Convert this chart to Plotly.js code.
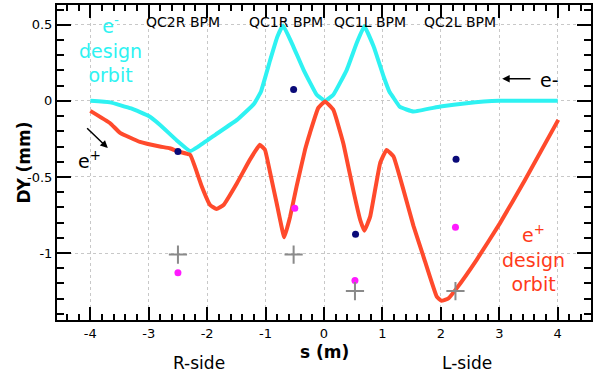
<!DOCTYPE html>
<html>
<head>
<meta charset="utf-8">
<script src="https://cdn.plot.ly/plotly-3.0.1.min.js"></script>
<style>
  html, body { margin: 0; padding: 0; background: #fff; }
  #myChart { width: 602px; height: 379px; }
</style>
</head>
<body>
<div id="myChart"></div>
<script>
// e- design orbit (cyan)
const sElec = [-4.0, -3.66, -3.3, -3.0, -2.8, -2.52, -2.29, -2.15, -1.85, -1.49, -1.2, -1.08,
	-0.92, -0.8, -0.7, -0.525, -0.35, -0.125, 0.017, 0.16, 0.39, 0.56, 0.69,
	0.85, 1.02, 1.12, 1.19, 1.3, 1.53, 1.99, 2.44, 3.0, 4.0];
const dyElec = [0.0, -0.01, -0.05, -0.1, -0.16, -0.26, -0.33, -0.3, -0.22, -0.125, -0.02, 0.06,
	0.27, 0.42, 0.495, 0.357, 0.204, 0.04, 0.0, 0.04, 0.204, 0.38, 0.49,
	0.357, 0.16, 0.06, 0.02, -0.04, -0.07, -0.037, -0.015, 0.0, 0.0];

// e+ design orbit (red)
const sPos = [-4.0, -3.66, -3.49, -3.15, -2.81, -2.64, -2.49, -2.29, -2.21, -2.09, -1.95, -1.84,
	-1.72, -1.49, -1.27, -1.1, -1.01, -0.92, -0.81, -0.68, -0.58, -0.47, -0.325, -0.24, -0.1,
	0.017, 0.16, 0.33, 0.5, 0.62, 0.69, 0.79, 0.96, 1.07, 1.19, 1.36, 1.53, 1.7, 1.93, 2.01,
	2.13, 2.27, 2.61, 3.01, 3.44, 4.01];
const dyPos = [-0.066, -0.147, -0.21, -0.27, -0.3, -0.311, -0.333, -0.355, -0.432, -0.564, -0.684, -0.711,
	-0.684, -0.541, -0.388, -0.289, -0.322, -0.476, -0.673, -0.897, -0.761, -0.564, -0.322, -0.21, -0.048,
	-0.004, -0.059, -0.278, -0.585, -0.783, -0.853, -0.761, -0.41, -0.322, -0.366, -0.585, -0.82, -1.02, -1.287, -1.314,
	-1.298, -1.232, -1.046, -0.805, -0.52, -0.125];

// BPM readings
const sNavy = [-2.5, -0.52, 0.54, 2.26];
const dyNavy = [-0.333, 0.074, -0.877, -0.384];
const sMagenta = [-2.5, -0.5, 0.53, 2.25];
const dyMagenta = [-1.13, -0.706, -1.18, -0.83];
const sCross = [-2.5, -0.52, 0.53, 2.25];
const dyCross = [-1.01, -1.01, -1.25, -1.25];

const bpmNames = ['QC2R BPM', 'QC1R BPM', 'QC1L BPM', 'QC2L BPM'];
const bpmLabelS = [-2.41, -0.65, 0.79, 2.33];

const xTicks = [-4, -3, -2, -1, 0, 1, 2, 3, 4];
const xTickText = ['-4', '-3', '-2', '-1', '0', '1', '2', '3', '4'];
const yTicks = [0.5, 0, -0.5, -1];
const yTickText = ['0.5', '0', '-0.5', '-1'];

const font = 'DejaVu Sans, Verdana, sans-serif';

const traceElec = {
	x: sElec, y: dyElec,
	type: 'scatter', mode: 'lines',
	line: { color: '#2ef2f2', width: 4, shape: 'spline', smoothing: 0.3 }
};
const tracePos = {
	x: sPos, y: dyPos,
	type: 'scatter', mode: 'lines',
	line: { color: '#ff4a2c', width: 4, shape: 'spline', smoothing: 0.3 }
};
const traceNavy = {
	x: sNavy, y: dyNavy,
	type: 'scatter', mode: 'markers',
	marker: { color: '#0a0a78', size: 7 }
};
const traceMagenta = {
	x: sMagenta, y: dyMagenta,
	type: 'scatter', mode: 'markers',
	marker: { color: '#ff1aff', size: 7 }
};
const traceCross = {
	x: sCross, y: dyCross,
	type: 'scatter', mode: 'markers',
	marker: { symbol: 'cross-thin', size: 13, color: '#8a8a8a', line: { color: '#8a8a8a', width: 2 } }
};

const annotations = bpmNames.map((t, i) => ({
	x: bpmLabelS[i], y: 0.52, xref: 'x', yref: 'y',
	text: t, showarrow: false,
	font: { family: font, size: 14, color: '#000' }
}));

annotations.push(
	{ x: -3.66, y: 0.335, xref: 'x', yref: 'y', showarrow: false,
	  text: 'e<sup>-</sup><br>design<br>orbit',
	  font: { family: font, size: 19, color: '#2ef2f2' } },
	{ x: 3.58, y: -1.033, xref: 'x', yref: 'y', showarrow: false,
	  text: 'e<sup>+</sup><br>design<br>orbit',
	  font: { family: font, size: 19, color: '#ff3a1a' } },
	{ x: 3.05, y: 0.145, ax: 3.56, ay: 0.145, xref: 'x', yref: 'y', axref: 'x', ayref: 'y',
	  text: '', showarrow: true, arrowhead: 2, arrowsize: 1, arrowwidth: 1.5, arrowcolor: '#000' },
	{ x: 3.86, y: 0.14, xref: 'x', yref: 'y', showarrow: false,
	  text: 'e-', font: { family: font, size: 19, color: '#000' } },
	{ x: -3.7, y: -0.31, ax: -4.08, ay: -0.17, xref: 'x', yref: 'y', axref: 'x', ayref: 'y',
	  text: '', showarrow: true, arrowhead: 2, arrowsize: 1, arrowwidth: 1.5, arrowcolor: '#000' },
	{ x: -4.02, y: -0.39, xref: 'x', yref: 'y', showarrow: false,
	  text: 'e<sup>+</sup>', font: { family: font, size: 19, color: '#000' } },
	{ x: 0.5, y: -0.1016, xref: 'paper', yref: 'paper', xanchor: 'center', yanchor: 'middle', showarrow: false,
	  text: '<b>s (m)</b>', font: { family: font, size: 17, color: '#000' } },
	{ x: -0.0618, y: 0.5, xref: 'paper', yref: 'paper', xanchor: 'center', yanchor: 'middle', showarrow: false, textangle: -90,
	  text: '<b>DY (mm)</b>', font: { family: font, size: 17, color: '#000' } },
	{ x: 0.266, y: -0.1365, xref: 'paper', yref: 'paper', xanchor: 'center', yanchor: 'middle', showarrow: false,
	  text: 'R-side', font: { family: font, size: 17, color: '#000' } },
	{ x: 0.768, y: -0.1365, xref: 'paper', yref: 'paper', xanchor: 'center', yanchor: 'middle', showarrow: false,
	  text: 'L-side', font: { family: font, size: 17, color: '#000' } }
);

const layout = {
	width: 602, height: 379,
	margin: { l: 57, r: 11, t: 5, b: 59 },
	showlegend: false,
	paper_bgcolor: '#fff', plot_bgcolor: '#fff',
	font: { family: font, size: 13, color: '#000' },
	xaxis: {
		range: [-4.57, 4.57],
		tickmode: 'array', tickvals: xTicks, ticktext: xTickText,
		ticks: 'inside', ticklen: 13, tickwidth: 1.5, tickcolor: '#000',
		showline: true, linecolor: '#000', linewidth: 2, mirror: 'allticks',
		showgrid: true, gridcolor: '#c8c8c8', griddash: 'dot',
		zeroline: false,
		minor: { dtick: 0.2, ticks: 'inside', ticklen: 6, tickcolor: '#000' }
	},
	yaxis: {
		range: [-1.44, 0.63],
		tickmode: 'array', tickvals: yTicks, ticktext: yTickText,
		ticks: 'inside', ticklen: 14, tickwidth: 1.5, tickcolor: '#000',
		showline: true, linecolor: '#000', linewidth: 2, mirror: 'allticks',
		showgrid: true, gridcolor: '#c8c8c8', griddash: 'dot',
		zeroline: false,
		minor: { dtick: 0.1, ticks: 'inside', ticklen: 7, tickcolor: '#000' }
	},
	annotations: annotations
};

Plotly.newPlot('myChart', [traceElec, tracePos, traceNavy, traceMagenta, traceCross], layout, { displayModeBar: false });
</script>
</body>
</html>
